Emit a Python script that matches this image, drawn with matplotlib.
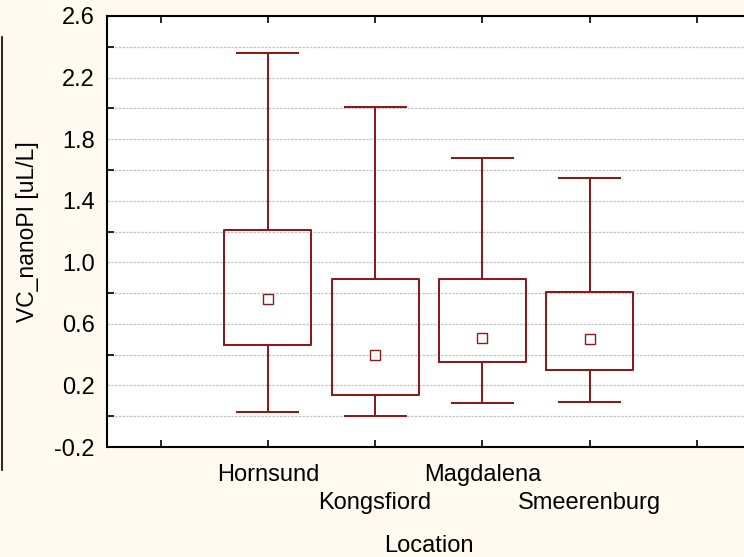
import matplotlib

matplotlib.use("Agg")
import matplotlib.pyplot as plt
from matplotlib.lines import Line2D

# box plot summary per location (median, 25-75 %, min-max)
locations = ["Hornsund", "Kongsfiord", "Magdalena", "Smeerenburg"]
medians = [0.76, 0.40, 0.51, 0.50]
q1 = [0.46, 0.14, 0.35, 0.30]
q3 = [1.21, 0.89, 0.89, 0.81]
mins = [0.03, 0.00, 0.085, 0.095]
maxs = [2.36, 2.01, 1.68, 1.55]

RED = "#8c1a1a"
BG = "#fffaf0"

plt.rcParams["font.family"] = ["Liberation Sans", "DejaVu Sans"]

fig = plt.figure(figsize=(7.44, 5.57), dpi=100, facecolor=BG)
ax = fig.add_axes([107 / 744, 110 / 557, 643.5 / 744, 431 / 557])
ax.set_facecolor("white")

pos = list(range(1, len(locations) + 1))
stats = []
for i in range(len(locations)):
    stats.append({"med": medians[i], "q1": q1[i], "q3": q3[i],
                  "whislo": mins[i], "whishi": maxs[i], "fliers": []})

lp = dict(color=RED, linewidth=1.45)
ax.bxp(stats, positions=pos, widths=0.81, capwidths=0.57,
       boxprops=lp, whiskerprops=lp, capprops=lp,
       medianprops=dict(visible=False), showfliers=False,
       manage_ticks=False, zorder=3)
ax.plot(pos, medians, linestyle="none", marker="s", markersize=7.8,
        markerfacecolor="white", markeredgecolor=RED, markeredgewidth=1.0,
        zorder=4)

ax.set_xlim(-0.5, 5.5)
ax.set_ylim(-0.2, 2.6)

ax.set_xticks(range(0, 6))
ax.set_xticklabels([])
ax.tick_params(axis="x", direction="in", length=5, width=1.2,
               top=True, colors="black")

# staggered category labels, two rows below the axis
xt = ax.get_xaxis_transform()
for i, name in enumerate(locations):
    row_y = -0.0789 if i % 2 == 0 else -0.1439
    ax.text(pos[i], row_y, name, transform=xt, ha="center", va="baseline",
            fontsize=17)

major = [-0.2 + 0.4 * k for k in range(8)]
minor = [0.0 + 0.4 * k for k in range(7)]
ax.set_yticks(major)
ax.set_yticklabels([f"{v:.1f}" for v in major])
ax.set_yticks(minor, minor=True)
ax.tick_params(axis="y", which="major", length=0, labelsize=17, pad=9)
ax.tick_params(axis="y", which="minor", direction="in", length=5, width=1.2)

ax.grid(True, axis="y", which="both", linestyle=(0, (2, 1)),
        color="#c4c4c4", linewidth=0.9, zorder=0)
ax.set_axisbelow(True)

for side in ["left", "bottom", "top", "right"]:
    ax.spines[side].set_linewidth(1.5)
    ax.spines[side].set_color("black")

fig.text(27.5 / 744, 0.5 * (110 + 541) / 557, "VC_nanoPI [uL/L]",
         rotation=90, ha="center", va="center", fontsize=16.5)
fig.text(428.5 / 744, 5 / 557, "Location", ha="center", va="baseline",
         fontsize=17)

# stray frame edge on the far left
fig.add_artist(Line2D([1.5 / 744, 1.5 / 744], [87 / 557, 520 / 557],
                      color="black", linewidth=1.2))

fig.savefig("out.png", dpi=100, facecolor=BG)
